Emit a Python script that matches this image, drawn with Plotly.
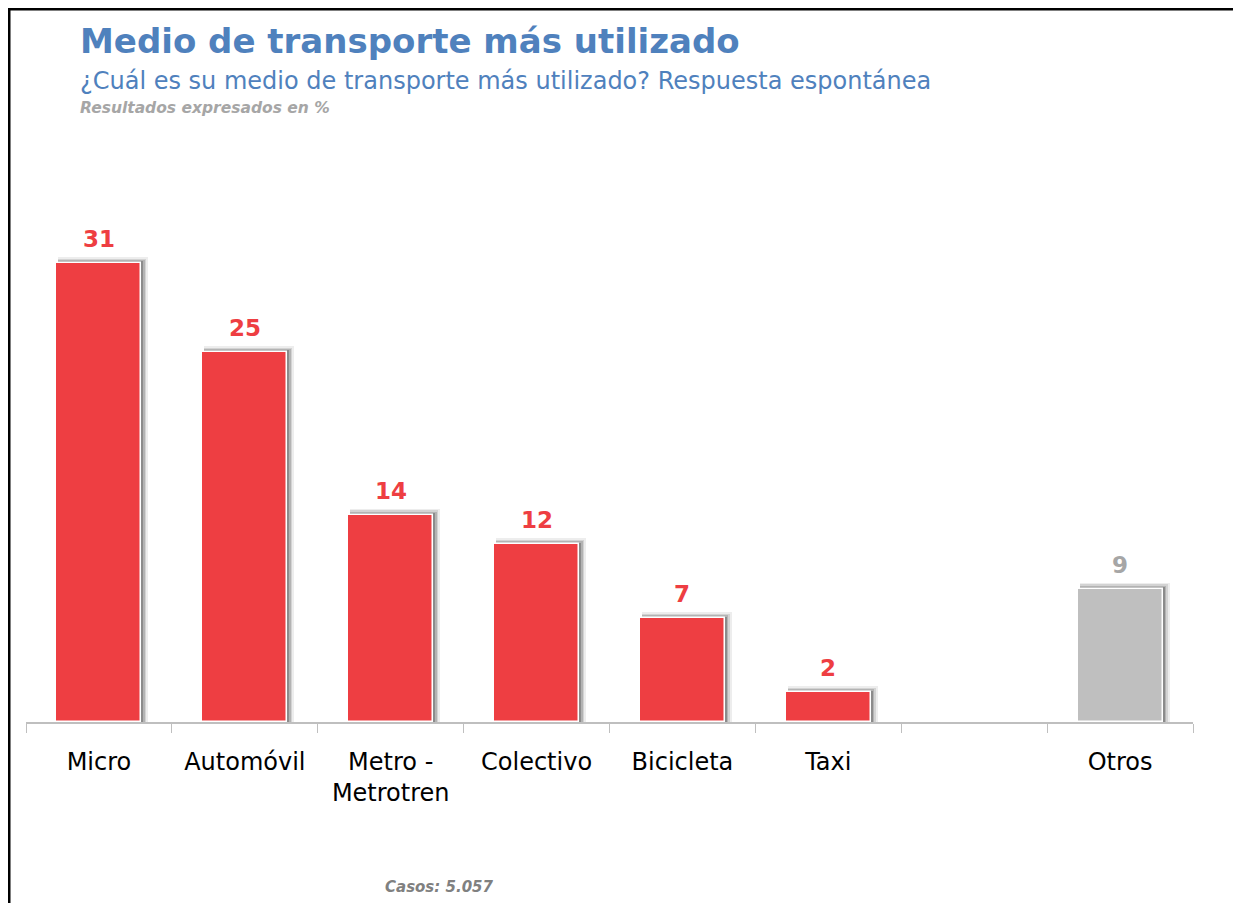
import plotly.graph_objects as go

categories = ["Micro", "Automóvil", "Metro -<br>Metrotren", "Colectivo", "Bicicleta", "Taxi", " ", "Otros"]
values = [31, 25, 14, 12, 7, 2, None, 9]
bar_colors = ["#EE3E42"] * 6 + ["#EE3E42", "#BFBFBF"]
label_colors = ["#EE3E42"] * 6 + ["#EE3E42", "#A6A6A6"]

W, H = 1241, 903
OFF = 8  # page body margin: screen coordinate = figure coordinate + OFF
# plot area in screen pixels
SX0, SX1, SY0, SY1 = 26, 1193, 200, 722
ML, MR = SX0 - OFF, W - (SX1 - OFF)
MT, MB = SY0 - OFF, H - (SY1 - OFF)
PW, PH = W - ML - MR, H - MT - MB
Y_MAX = 35.27
px_per_unit = PH / Y_MAX
cat_px = PW / len(categories)


def px_x(sx):
    return (sx - SX0) / PW


def px_y(sy):
    return 1 - (sy - SY0) / PH


BAR_W = 85 / cat_px

fig = go.Figure()

# soft drop shadow (layers derived from the same data)
for ext_r, ext_t, alpha in [(7, 6, 0.07), (5, 4.5, 0.11), (3.5, 3, 0.15), (2, 1.8, 0.22)]:
    fig.add_trace(go.Bar(
        x=categories,
        y=[None if v is None else v + ext_t / px_per_unit for v in values],
        width=BAR_W + (ext_r - 2) / cat_px,
        offset=-BAR_W / 2 + 2 / cat_px,
        marker=dict(color=f"rgba(0,0,0,{alpha})", line=dict(width=0)),
        hoverinfo="skip", showlegend=False,
    ))

fig.add_trace(go.Bar(
    x=categories, y=values,
    width=BAR_W, offset=-BAR_W / 2,
    marker=dict(color=bar_colors, line=dict(color="white", width=1.5)),
    showlegend=False,
))

annotations = []
for c, v, col in zip(categories, values, label_colors):
    if v is None:
        continue
    annotations.append(dict(
        x=c, y=v, xref="x", yref="y", text=f"<b>{v}</b>", showarrow=False,
        yanchor="bottom", yshift=9,
        font=dict(family="DejaVu Sans", size=23, color=col),
    ))

annotations += [
    dict(x=px_x(78), y=px_y(41), xref="paper", yref="paper", xanchor="left", yanchor="middle",
         text="<b>Medio de transporte más utilizado</b>", showarrow=False,
         font=dict(family="DejaVu Sans", size=34, color="#4F81BD")),
    dict(x=px_x(78), y=px_y(81), xref="paper", yref="paper", xanchor="left", yanchor="middle",
         text="¿Cuál es su medio de transporte más utilizado? Respuesta espontánea", showarrow=False,
         font=dict(family="DejaVu Sans", size=24, color="#4F81BD")),
    dict(x=px_x(78), y=px_y(108), xref="paper", yref="paper", xanchor="left", yanchor="middle",
         text="<b><i>Resultados expresados en %</i></b>", showarrow=False,
         font=dict(family="DejaVu Sans", size=15.5, color="#A6A6A6")),
    dict(x=px_x(383), y=px_y(887), xref="paper", yref="paper", xanchor="left", yanchor="middle",
         text="<b><i>Casos: 5.057</i></b>", showarrow=False,
         font=dict(family="DejaVu Sans", size=15, color="#808080")),
]

shapes = [
    dict(type="line", xref="paper", yref="paper", x0=px_x(7), x1=px_x(W + 20), y0=px_y(9), y1=px_y(9),
         line=dict(color="black", width=3)),
    dict(type="line", xref="paper", yref="paper", x0=px_x(9), x1=px_x(9), y0=px_y(8), y1=px_y(H + 20),
         line=dict(color="black", width=3)),
    dict(type="line", xref="paper", yref="paper", x0=px_x(701), x1=px_x(701), y0=px_y(-2), y1=px_y(5),
         line=dict(color="#1F4E9A", width=2)),
]

fig.update_layout(
    width=W, height=H,
    margin=dict(l=ML, r=MR, t=MT, b=MB),
    paper_bgcolor="white", plot_bgcolor="white",
    barmode="overlay",
    bargap=0,
    annotations=annotations,
    shapes=shapes,
    xaxis=dict(
        type="category", categoryorder="array", categoryarray=categories,
        showline=True, linecolor="#BFBFBF", linewidth=1.5,
        ticks="outside", ticklen=9, tickcolor="#BFBFBF", tickwidth=1,
        tickson="boundaries", showgrid=False, zeroline=False,
        tickfont=dict(family="DejaVu Sans", size=24, color="black"),
        ticklabelstandoff=17,
        fixedrange=True,
    ),
    yaxis=dict(visible=False, range=[0, Y_MAX], fixedrange=True),
)

fig.write_html("out.html")
